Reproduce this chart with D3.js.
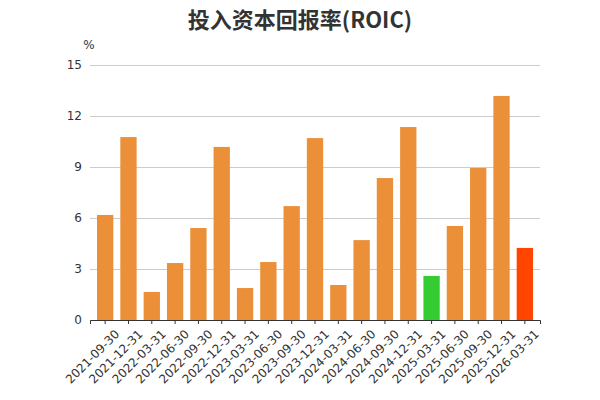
<!DOCTYPE html>
<html><head><meta charset="utf-8">
<script src="https://cdn.jsdelivr.net/npm/d3@7/dist/d3.min.js"></script>
<style>body{margin:0;background:#fff}</style></head>
<body><svg id="c" width="600" height="400"></svg>
<script>
var dates = ["2021-09-30","2021-12-31","2022-03-31","2022-06-30","2022-09-30","2022-12-31","2023-03-31","2023-06-30","2023-09-30","2023-12-31","2024-03-31","2024-06-30","2024-09-30","2024-12-31","2025-03-31","2025-06-30","2025-09-30","2025-12-31","2026-03-31"];
var roic = [6.18,10.76,1.65,3.35,5.41,10.18,1.88,3.41,6.7,10.7,2.06,4.7,8.35,11.35,2.59,5.53,8.94,13.18,4.24];
var yTicks = [0,3,6,9,12,15];

var svg = d3.select("#c");
var m = {l:90, r:540, t:65, b:320};
var x = d3.scaleBand().domain(dates).range([m.l, m.r]).padding(0.3);
var y = d3.scaleLinear().domain([0,15]).range([m.b, m.t]);

svg.append("text").attr("x",300).attr("y",28).attr("text-anchor","middle")
  .attr("font-family","Noto Sans CJK SC").attr("font-weight","bold").attr("font-size",22)
  .attr("fill","#333").text("投入资本回报率(ROIC)");
svg.append("text").attr("x",89).attr("y",49).attr("text-anchor","middle")
  .attr("font-family","DejaVu Sans").attr("font-size",12).attr("fill","#333").text("%");

var ya = svg.append("g").attr("transform","translate("+m.l+",0)")
  .call(d3.axisLeft(y).tickValues(yTicks).tickSize(-(m.r-m.l)).tickPadding(8));
ya.select(".domain").remove();
ya.selectAll("line").attr("stroke","#ccc");
ya.selectAll("text").attr("font-family","DejaVu Sans").attr("font-size",12).attr("fill","#333");

svg.selectAll("rect.bar").data(roic).enter().append("rect")
  .attr("x",function(d,i){return x(dates[i]);})
  .attr("width",x.bandwidth())
  .attr("y",function(d){return y(d);})
  .attr("height",function(d){return y(0)-y(d);})
  .attr("fill",function(d,i){return i==14?"#33cc33":(i==18?"#ff4500":"#eb9039");});

var xa = svg.append("g").attr("transform","translate(0,"+m.b+")")
  .call(d3.axisBottom(x).tickSize(4));
xa.select(".domain").attr("stroke","#333");
xa.selectAll("line").attr("stroke","#333");
xa.selectAll("text").attr("font-family","DejaVu Sans").attr("font-size",12).attr("fill","#333")
  .attr("text-anchor","end").attr("transform","translate(4,4) rotate(-45)").attr("dy","0.7em").attr("dx","0");
</script></body></html>
